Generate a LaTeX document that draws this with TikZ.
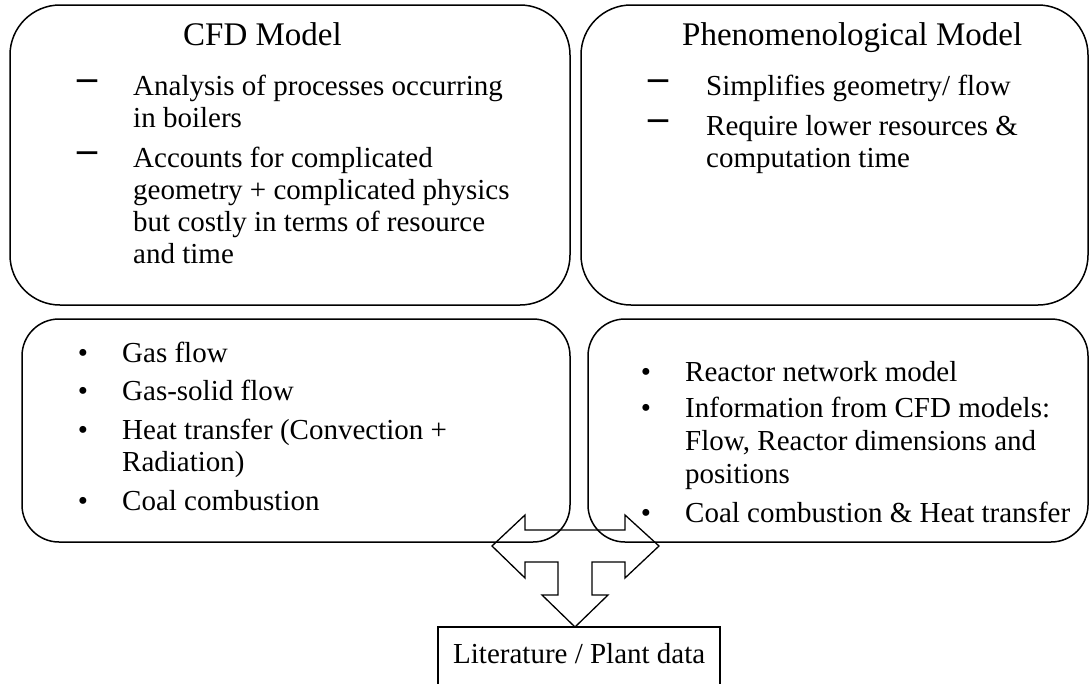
\documentclass[tikz,border=0pt]{standalone}
\usepackage{fontspec}
\setmainfont{Liberation Serif}
\tikzset{
  bigbox/.style={draw, line width=1.5pt, rounded corners=50pt, inner sep=0pt},
  smallbox/.style={draw, line width=1.5pt, rounded corners=37pt, inner sep=0pt},
  sqbox/.style={draw, line width=1.3pt, inner sep=0pt},
  txt/.style={anchor=base west, inner sep=0pt, font=\fontsize{29}{32}\selectfont},
  ttl/.style={anchor=base west, inner sep=0pt, font=\fontsize{33}{36}\selectfont},
  dsh/.style={anchor=base, inner sep=0pt, font=\fontsize{40}{40}\selectfont\bfseries},
  bul/.style={anchor=base, inner sep=0pt, font=\fontsize{29}{32}\selectfont},
  blockarrow/.style={draw, line width=1.3pt, line join=miter}
}
\begin{document}
\begin{tikzpicture}[x=1pt,y=-1pt]
\useasboundingbox (0,0) rectangle (1089,683);
% boxes
\node[bigbox, minimum width=560pt, minimum height=300pt] (cfd) at (290,155) {};
\node[bigbox, minimum width=507pt, minimum height=300pt] (phen) at (834.5,155) {};
\node[smallbox, minimum width=548pt, minimum height=223pt] (bl) at (296,430.5) {};
\node[smallbox, minimum width=500pt, minimum height=223pt] (br) at (838,430.5) {};
\node[sqbox, minimum width=282pt, minimum height=73pt] (lit) at (579,663.5) {};
% CFD model
\node[ttl] (cfdt) at (183,45) {CFD Model};
\node[dsh] (cd1) at (87,90) {–};
\node[txt] (c1) at (133,95) {Analysis of processes occurring};
\node[txt] (c2) at (133,127) {in boilers};
\node[dsh] (cd2) at (87,162) {–};
\node[txt] (c3) at (133,167) {Accounts for complicated};
\node[txt] (c4) at (133,199) {geometry + complicated physics};
\node[txt] (c5) at (133,231) {but costly in terms of resource};
\node[txt] (c6) at (133,263) {and time};
% Phenomenological model
\node[ttl] (pht) at (682,45) {Phenomenological Model};
\node[dsh] (pd1) at (658,90) {–};
\node[txt] (p1) at (706,95) {Simplifies geometry/ flow};
\node[dsh] (pd2) at (658,130) {–};
\node[txt] (p2) at (706,135) {Require lower resources \&};
\node[txt] (p3) at (706,167) {computation time};
% bottom left
\node[bul] (lb1) at (83,362) {•};
\node[txt] (l1) at (122,362) {Gas flow};
\node[bul] (lb2) at (83,400) {•};
\node[txt] (l2) at (122,400) {Gas-solid flow};
\node[bul] (lb3) at (83,439) {•};
\node[txt] (l3) at (122,439) {Heat transfer (Convection +};
\node[txt] (l4) at (122,471) {Radiation)};
\node[bul] (lb4) at (83,510) {•};
\node[txt] (l5) at (122,510) {Coal combustion};
% bottom right
\node[bul] (rb1) at (646,381) {•};
\node[txt] (r1) at (685,381) {Reactor network model};
\node[bul] (rb2) at (646,417) {•};
\node[txt] (r2) at (685,417) {Information from CFD models:};
\node[txt] (r3) at (685,450) {Flow, Reactor dimensions and};
\node[txt] (r4) at (685,483) {positions};
\node[bul] (rb3) at (646,522) {•};
\node[txt] (r5) at (685,522) {Coal combustion \& Heat transfer};
% literature
\node[txt] (litt) at (453,663) {Literature / Plant data};
% three-way block arrow
\draw[blockarrow] (492,546) -- (525,515) -- (525,530) -- (625,530) -- (625,515)
  -- (659,546) -- (625,578) -- (625,562) -- (592,562) -- (592,595) -- (608,595)
  -- (575,627) -- (542,595) -- (558,595) -- (558,562) -- (525,562) -- (525,578) -- cycle;
\end{tikzpicture}
\end{document}
